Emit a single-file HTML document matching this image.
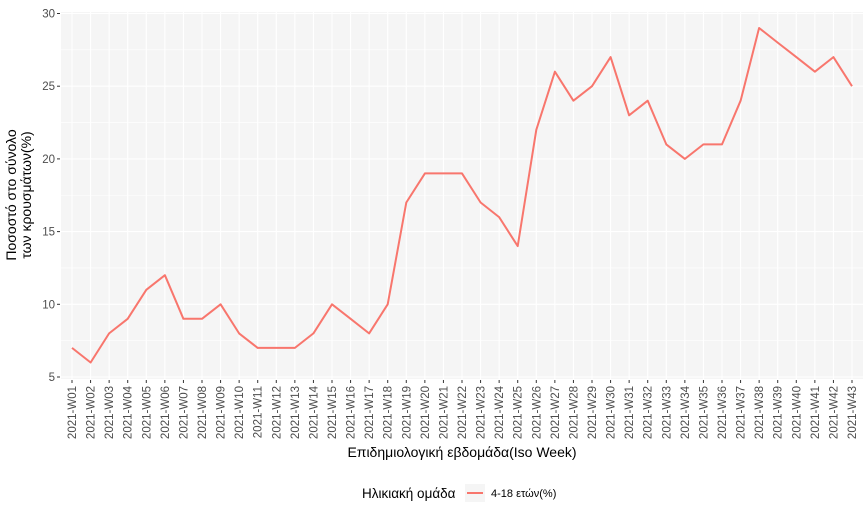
<!DOCTYPE html>
<html><head><meta charset="utf-8"><style>
body{margin:0;background:#fff;font-family:"Liberation Sans",sans-serif;}
svg text{font-family:"Liberation Sans",sans-serif;}
</style></head><body>
<svg id="chart" width="868" height="508" xmlns="http://www.w3.org/2000/svg">
<rect x="61" y="12" width="802" height="367" fill="#f5f5f5"/>
<g id="grid"></g>
<g id="axes"></g>
<path id="line" fill="none" stroke="#F8766D" stroke-width="2" stroke-linejoin="round"/>
<text x="462" y="457" font-size="14" text-anchor="middle" fill="#000">Επιδημιολογική εβδομάδα(Iso Week)</text>
<text transform="translate(16,195) rotate(-90)" font-size="14" text-anchor="middle" fill="#000"><tspan x="0" dy="0">Ποσοστό στο σύνολο</tspan><tspan x="0" dy="15">των κρουσμάτων(%)</tspan></text>
<g>
<text x="362" y="498" font-size="13.5" fill="#000">Ηλικιακή ομάδα</text>
<rect x="465" y="484" width="20" height="18" fill="#f5f5f5"/>
<line x1="467" y1="493" x2="483" y2="493" stroke="#F8766D" stroke-width="2"/>
<text x="491" y="497" font-size="11" fill="#000">4-18 ετών(%)</text>
</g>
</svg>
<script>
const weeks=[];for(let i=1;i<=43;i++)weeks.push('2021-W'+(i<10?'0':'')+i);
const values=[7,6,8,9,11,12,9,9,10,8,7,7,7,8,10,9,8,10,17,19,19,19,17,16,14,22,26,24,25,27,23,24,21,20,21,21,24,29,28,27,26,27,25];
const yTicks=[5,10,15,20,25,30];
const ns='http://www.w3.org/2000/svg';
const X=i=>72+i*(852-72)/42;
const Y=v=>377-(v-5)*(377-13.5)/25;
const grid=document.getElementById('grid'),axes=document.getElementById('axes');
function mk(t,a,p){const e=document.createElementNS(ns,t);for(const k in a)e.setAttribute(k,a[k]);p.appendChild(e);return e;}
for(let k=0;k<yTicks.length-1;k++){const l=mk('line',{x1:61,x2:863,y1:Y(yTicks[k]+2.5),y2:Y(yTicks[k]+2.5),stroke:'#fff','stroke-width':0.6},grid);

}
yTicks.forEach(v=>{const l=mk('line',{x1:61,x2:863,y1:Y(v),y2:Y(v),stroke:'#fff','stroke-width':1.1},grid);


const t=mk('line',{x1:57,x2:60,y1:Y(v),y2:Y(v),stroke:'#333','stroke-width':1},axes);


const tx=mk('text',{x:55,y:Y(v)+4,'font-size':11.5,'text-anchor':'end',fill:'#4d4d4d'},axes);tx.textContent=v;

});
weeks.forEach((w,i)=>{const l=mk('line',{x1:X(i),x2:X(i),y1:12,y2:379,stroke:'#fff','stroke-width':1.1},grid);


const t=mk('line',{x1:X(i),x2:X(i),y1:380,y2:383,stroke:'#333','stroke-width':1},axes);


const tx=mk('text',{transform:`translate(${X(i)+4},386) rotate(-90)`,'font-size':11.5,'text-anchor':'end',fill:'#4d4d4d'},axes);tx.textContent=w;

});
document.getElementById('line').setAttribute('d',values.map((v,i)=>(i?'L':'M')+X(i).toFixed(1)+','+Y(v).toFixed(1)).join(''));
</script>
</body></html>
